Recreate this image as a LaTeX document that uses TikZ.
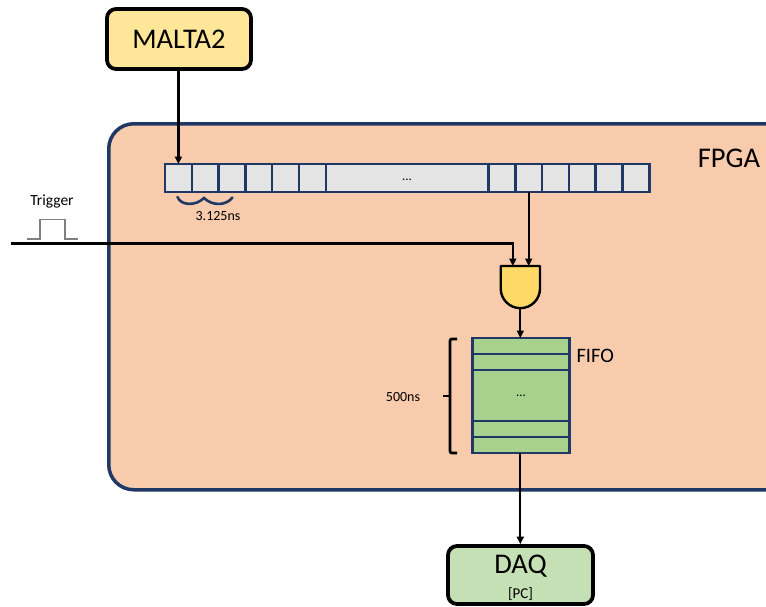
\documentclass[tikz,border=0pt]{standalone}
\usepackage{fontspec}
\setmainfont{Carlito}
\usetikzlibrary{arrows.meta}
\definecolor{navy}{HTML}{1F3864}
\definecolor{fpgafill}{HTML}{F8CBAD}
\definecolor{regfill}{HTML}{E4E4E4}
\definecolor{maltafill}{HTML}{FFE699}
\definecolor{gatefill}{HTML}{FFD966}
\definecolor{fifofill}{HTML}{A9D18E}
\definecolor{daqfill}{HTML}{C5E0B4}
\tikzset{
  arr/.style={line width=2.2pt,-{Triangle[length=7.5pt,width=7pt]}},
  wire/.style={line width=2.2pt},
  topbox/.style={draw=black,line width=3.8pt,rounded corners=9pt,inner sep=0pt},
  cell/.style={draw=navy,fill=regfill,line width=2.5pt,minimum height=28pt,inner sep=0pt,outer sep=0pt},
  fiforow/.style={draw=navy,fill=fifofill,line width=2.5pt,minimum width=96.6pt,inner sep=0pt,outer sep=0pt,anchor=north},
  big/.style={font=\fontsize{28.5}{30}\selectfont},
  small/.style={font=\fontsize{14}{16}\selectfont},
}
\begin{document}
\begin{tikzpicture}[x=1pt,y=-1pt]
\useasboundingbox (0,0) rectangle (766,606);
\clip (0,0) rectangle (766,606);
% FPGA
\node[draw=navy,fill=fpgafill,line width=3.5pt,rounded corners=25pt,minimum width=700pt,minimum height=366pt,anchor=north west,inner sep=0pt] (fpga) at (107,122) {};
\node[big,anchor=center] (fpgalbl) at (729,158) {FPGA};
% MALTA2
\node[topbox,fill=maltafill,minimum width=144pt,minimum height=60pt,big] (malta) at (179,39) {MALTA2};
% register
\foreach \i in {1,...,6} {
  \node[cell,minimum width=26.8pt] (c\i) at ({165+26.8*(\i-0.5)},178) {};
}
\node[cell,minimum width=162.5pt] (cl) at (407.25,178) {};
\node[font=\fontsize{13}{15}\selectfont] (cldots) at (407,180) {...};
\foreach \i in {7,...,12} {
  \node[cell,minimum width=26.8pt] (c\i) at ({488.5+26.8*(\i-6.5)},178) {};
}
% 3.125ns brace
\draw[navy,line width=2.6pt,line cap=round] (177.5,197) .. controls (181,206) and (196,206) .. (204,198) .. controls (212,206) and (226,206) .. (232.5,197.5);
\node[small] (tlbl) at (218,216) {3.125ns};
% MALTA2 to register
\draw[arr] (malta.south -| c1) -- (c1.north);
% trigger
\node[font=\fontsize{15.5}{17}\selectfont] (trig) at (52,201) {Trigger};
\draw[gray,line width=1.3pt] (27,239) -- (40,239) -- (40,219.5) -- (65,219.5) -- (65,239) -- (78,239);
% AND gate
\coordinate (gin1) at (512.8,266);
\coordinate (gin2) at (528.7,266);
\coordinate (gout) at (520.3,308);
\draw[fill=gatefill,line width=2.4pt,line join=round] (500.7,266) -- (540,266) -- (540,288.5) arc (0:180:19.65) -- cycle;
\coordinate (tin) at (11,243.5);
\draw[wire,-{Triangle[length=7.5pt,width=7pt]}] (tin) -| (gin1);
\draw[arr] (c8.south) -- (c8.south |- gin2);
% FIFO
\node[fiforow,minimum height=16pt] (f1) at (521,338) {};
\node[fiforow,minimum height=16pt] (f2) at (f1.south) {};
\node[fiforow,minimum height=51pt] (f3) at (f2.south) {};
\node[fiforow,minimum height=16pt] (f4) at (f3.south) {};
\node[fiforow,minimum height=16pt] (f5) at (f4.south) {};
\node[font=\fontsize{13}{15}\selectfont] (fdots) at (f3.center) {...};
\node[font=\fontsize{20.5}{22}\selectfont,anchor=west] (fifolbl) at (573,356) {FIFO};
\draw[arr] (gout) -- (f1.north -| gout);
% 500ns bracket
\draw[line width=2.8pt,rounded corners=2pt] (457,339) -- (450,339) -- (450,453) -- (457,453);
\draw[line width=2.8pt] (450,396) -- (443,396);
\node[small] (nslbl) at (403,397.5) {500ns};
% DAQ
\node[topbox,fill=daqfill,minimum width=145pt,minimum height=58pt] (daq) at (520.5,575) {};
\node[big] (daqt) at (520.5,566) {DAQ};
\node[font=\fontsize{15}{17}\selectfont] (daqpc) at (520.5,594) {[PC]};
\draw[arr] (f5.south -| gout) -- (daq.north -| gout);
\end{tikzpicture}
\end{document}
